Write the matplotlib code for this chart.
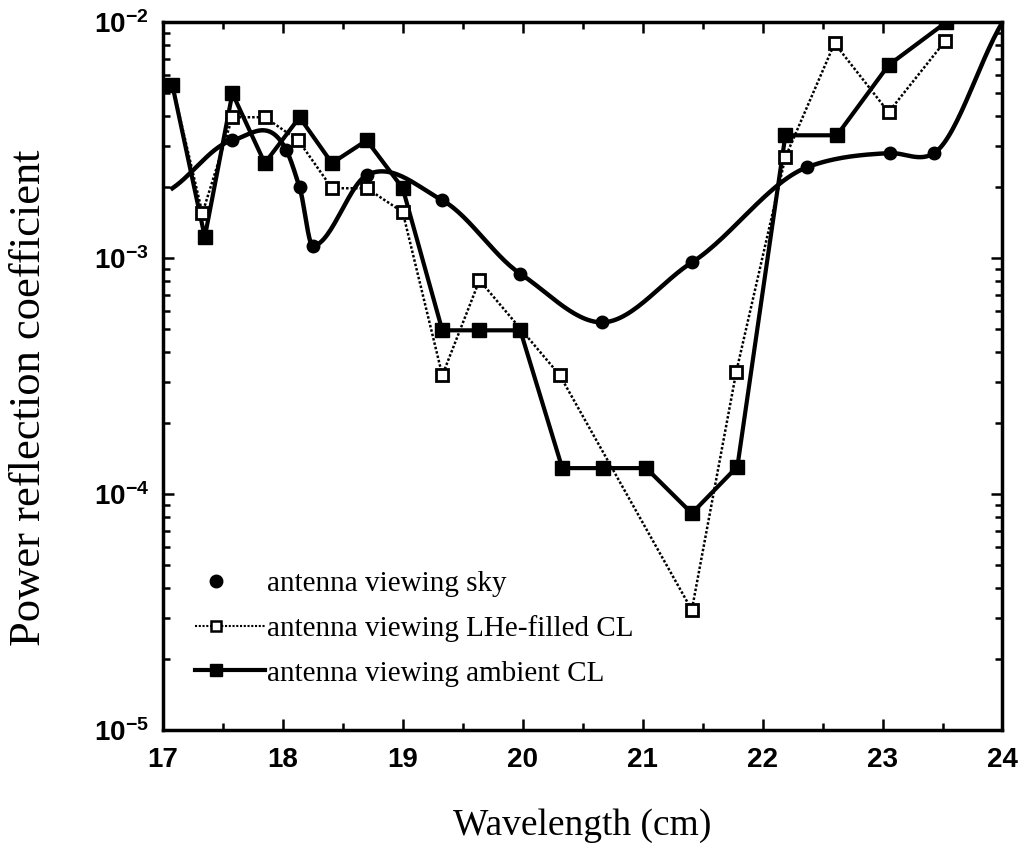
import numpy as np
import matplotlib
matplotlib.use("Agg")
import matplotlib.pyplot as plt
from matplotlib.lines import Line2D
from matplotlib.legend_handler import HandlerLine2D
from matplotlib.ticker import FixedLocator, LogLocator, NullFormatter

# antenna viewing sky (markers), plus the two unmarked ends of the drawn curve
sky_x = [17.58, 18.03, 18.14, 18.25, 18.70, 19.33, 19.98, 20.66, 21.41, 22.37, 23.06, 23.43]
sky_y = [3.16e-3, 2.87e-3, 2.0e-3, 1.13e-3, 2.25e-3, 1.76e-3, 8.6e-4, 5.35e-4, 9.6e-4,
         2.43e-3, 2.79e-3, 2.79e-3]
sky_curve_start = (17.08, 1.98e-3)
sky_curve_end = (24.0, 1.0e-2)

# antenna viewing LHe-filled CL
lhe_x = [17.08, 17.33, 17.58, 17.85, 18.13, 18.41, 18.70, 19.00, 19.33, 19.64, 20.31,
         21.41, 21.78, 22.19, 22.60, 23.05, 23.52]
lhe_y = [5.41e-3, 1.55e-3, 3.96e-3, 3.96e-3, 3.16e-3, 1.98e-3, 1.98e-3, 1.57e-3, 3.19e-4,
         8.07e-4, 3.19e-4, 3.23e-5, 3.29e-4, 2.68e-3, 8.15e-3, 4.16e-3, 8.3e-3]

# antenna viewing ambient CL
amb_x = [17.08, 17.35, 17.58, 17.85, 18.14, 18.41, 18.70, 19.00, 19.33, 19.64, 19.98,
         20.33, 20.67, 21.03, 21.41, 21.79, 22.19, 22.62, 23.05, 23.53]
amb_y = [5.41e-3, 1.23e-3, 5.0e-3, 2.53e-3, 3.96e-3, 2.53e-3, 3.16e-3, 1.98e-3, 4.95e-4,
         4.95e-4, 4.95e-4, 1.29e-4, 1.29e-4, 1.29e-4, 8.3e-5, 1.31e-4, 3.32e-3, 3.32e-3,
         6.58e-3, 1.0e-2]

x_ticks = [17, 18, 19, 20, 21, 22, 23, 24]
y_ticks = [1e-5, 1e-4, 1e-3, 1e-2]
y_tick_labels = [r"$10^{-5}$", r"$10^{-4}$", r"$10^{-3}$", r"$10^{-2}$"]

plt.rcParams["mathtext.fontset"] = "custom"
plt.rcParams["mathtext.rm"] = "Liberation Sans:bold"
plt.rcParams["mathtext.it"] = "Liberation Sans:bold"
plt.rcParams["mathtext.bf"] = "Liberation Sans:bold"


def smooth_curve(x, y, n=30):
    # cubic Hermite through the points (log space); flat tangent at local minima
    x = np.asarray(x, float)
    ly = np.log10(np.asarray(y, float))
    m = np.gradient(ly, x) * 0.85
    d = np.diff(ly)
    for i in range(1, len(x) - 1):
        if d[i - 1] < 0 < d[i]:
            m[i] = 0.0
    xs, ys = [], []
    for i in range(len(x) - 1):
        h = x[i + 1] - x[i]
        t = np.linspace(0, 1, n, endpoint=False)
        h00 = 2 * t**3 - 3 * t**2 + 1
        h10 = t**3 - 2 * t**2 + t
        h01 = -2 * t**3 + 3 * t**2
        h11 = t**3 - t**2
        xs.append(x[i] + t * h)
        ys.append(h00 * ly[i] + h10 * h * m[i] + h01 * ly[i + 1] + h11 * h * m[i + 1])
    xs.append([x[-1]])
    ys.append([ly[-1]])
    return np.concatenate(xs), 10 ** np.concatenate(ys)


class LeftMarkerHandler(HandlerLine2D):
    # legend marker sits near the left end of the line sample, as in the original
    def create_artists(self, legend, orig_handle, xdescent, ydescent, width, height,
                       fontsize, trans):
        artists = super().create_artists(legend, orig_handle, xdescent, ydescent,
                                         width, height, fontsize, trans)
        for a in artists:
            xd = np.asarray(a.get_xdata(), float)
            if len(xd) == 3:
                a.set_xdata([xd[0], xd[0] + 0.3 * (xd[2] - xd[0]), xd[2]])
        return artists


fig = plt.figure(figsize=(10.24, 8.58), dpi=100)
ax = fig.add_axes([0.159, 0.149, 0.820, 0.825])

cx = [sky_curve_start[0]] + sky_x + [sky_curve_end[0]]
cy = [sky_curve_start[1]] + sky_y + [sky_curve_end[1]]
sx, sy = smooth_curve(cx, cy)
ax.plot(sx, sy, color="black", lw=3.2, zorder=3)
ax.plot(sky_x, sky_y, "o", color="black", ms=9, zorder=4)

ax.plot(amb_x, amb_y, color="black", lw=3, zorder=4)
ax.plot(lhe_x, lhe_y, color="black", lw=1.8, ls=(0, (1, 0.8)), marker="s", ms=8,
        mfc="white", mec="black", mew=2, zorder=5)
ax.plot(amb_x, amb_y, ls="none", color="black", marker="s", ms=10, zorder=6)

ax.set_yscale("log")
ax.set_xlim(17, 24)
ax.set_ylim(1e-5, 1e-2)

ax.xaxis.set_major_locator(FixedLocator(x_ticks))
ax.xaxis.set_minor_locator(FixedLocator(np.arange(17.5, 24, 1.0)))
ax.set_xticklabels([str(v) for v in x_ticks], fontfamily="Liberation Sans",
                   fontweight="bold", fontsize=20)
ax.yaxis.set_major_locator(FixedLocator(y_ticks))
ax.yaxis.set_minor_locator(LogLocator(base=10, subs=np.arange(2, 10)))
ax.yaxis.set_minor_formatter(NullFormatter())
ax.set_yticklabels(y_tick_labels, fontsize=20)

ax.tick_params(which="both", direction="in", top=True, right=True, width=1.8)
ax.tick_params(which="major", length=8)
ax.tick_params(which="minor", length=5)
ax.tick_params(axis="x", pad=12)
ax.tick_params(axis="y", pad=10)
for s in ax.spines.values():
    s.set_linewidth(2.5)

ax.set_xlabel("Wavelength (cm)", fontfamily="Liberation Serif", fontsize=27)
ax.xaxis.set_label_coords(0.5, -0.11)
ax.set_ylabel("Power reflection coefficient", fontfamily="Liberation Serif", fontsize=32)
ax.yaxis.set_label_coords(-0.135, 0.47)

handles = [
    Line2D([], [], ls="none", marker="o", color="black", ms=9),
    Line2D([], [], color="black", lw=1.5, ls=(0, (1, 0.8)), marker="s", ms=7,
           mfc="white", mec="black", mew=1.8),
    Line2D([], [], color="black", lw=3, marker="s", ms=9),
]
labels = ["antenna viewing sky", "antenna viewing LHe-filled CL", "antenna viewing ambient CL"]
ax.legend(handles, labels, loc="lower left", bbox_to_anchor=(0.025, 0.045),
          frameon=False, borderaxespad=0, handlelength=2.4, handletextpad=0.05,
          labelspacing=0.62, prop={"family": "Liberation Serif", "size": 21},
          handler_map={Line2D: LeftMarkerHandler()})

fig.savefig("out.png", dpi=100)
